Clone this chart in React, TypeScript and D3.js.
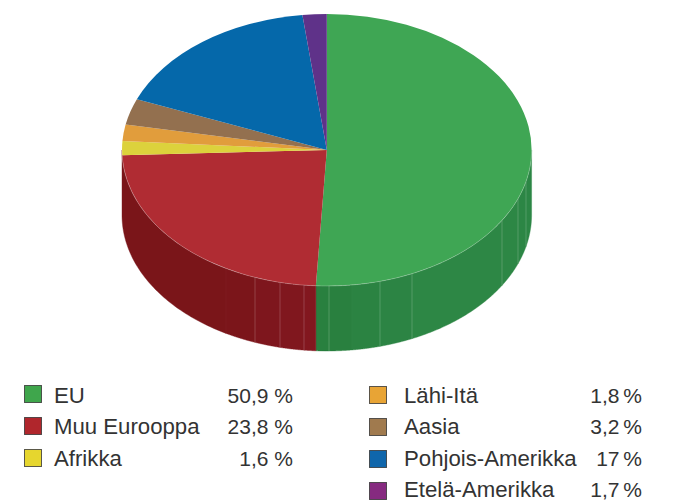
import React from "react";
import * as d3 from "d3";

const categories = ["EU", "Muu Eurooppa", "Afrikka", "Lähi-Itä", "Aasia", "Pohjois-Amerikka", "Etelä-Amerikka"];
const sliceValues = [50.85, 23.55, 1.65, 1.95, 3.1, 17, 1.9];
const valueLabels = ["50,9 %", "23,8 %", "1,6 %", "1,8 %", "3,2 %", "17 %", "1,7 %"];
const topColors = ["#3fa654", "#b02c33", "#dcd23c", "#e19d3c", "#93704f", "#0568aa", "#5f3289"];
const swatchColors = ["#3fa64c", "#b0262c", "#e6d62e", "#e8a435", "#a07a4e", "#0f66ab", "#862a80"];
const greenSeams = [329, 352, 380, 412, 502, 518, 526];
const redSeams = [226, 255, 280, 304];
const greenFacets = ["#29803f", "#29803f", "#2b8342", "#2c8444", "#2d8745", "#2d8745", "#2c8645", "#2c8645"];
const redFacets = ["#7a1519", "#7b151a", "#7e161d", "#80171e", "#82171f"];

const CX = 326.8, CY = 150, RX = 204.8, RY = 136, DEPTH = 65, UNIT = 1000;

const pieGen = d3.pie<number>().sort(null).startAngle(0).endAngle(2 * Math.PI);
const slices = pieGen(sliceValues);
const unitArc = d3.arc<d3.PieArcDatum<number>>().innerRadius(0).outerRadius(UNIT);

const xOf = (a: number) => CX + RX * Math.sin(a);
const yOf = (a: number) => CY - RY * Math.cos(a);
const angleOfX = (x: number) => Math.PI - Math.asin((x - CX) / RX);

function sidePath(a0: number, a1: number): string {
  const angles = d3.range(0, 61).map((i) => a0 + ((a1 - a0) * i) / 60);
  const top = angles.map((a) => [xOf(a), yOf(a)] as [number, number]);
  const bottom = angles.slice().reverse().map((a) => [xOf(a), yOf(a) + DEPTH] as [number, number]);
  return d3.line()([...top, ...bottom]) + "Z";
}

function rimPath(a0: number, a1: number): string {
  const angles = d3.range(0, 121).map((i) => a0 + ((a1 - a0) * i) / 120);
  return d3.line()(angles.map((a) => [xOf(a), yOf(a)] as [number, number])) ?? "";
}

const rightEdge = Math.PI / 2;
const leftEdge = (3 * Math.PI) / 2;
const splitAngle = slices[0].endAngle;

function facetBounds(seams: number[], start: number, end: number): number[] {
  const inner = seams.map(angleOfX).sort(d3.ascending);
  return [start, ...inner, end];
}

const greenBounds = facetBounds(greenSeams, rightEdge, splitAngle);
const redBounds = facetBounds(redSeams, splitAngle, leftEdge);

const legendLeft = [0, 1, 2];
const legendRight = [3, 4, 5, 6];

function LegendRow({ i, x, y, textY, valueX, labelDx, wordSpacing }: { i: number; x: number; y: number; textY: number; valueX: number; labelDx: number; wordSpacing: number }) {
  return (
    <g>
      <rect x={x + 0.5} y={y + 0.5} width={17} height={17} fill={swatchColors[i]} stroke="#333" strokeOpacity={0.8} strokeWidth={1} />
      <text x={x + labelDx} y={textY} fontSize={22.2} fill="#333">{categories[i]}</text>
      <text x={valueX} y={textY} fontSize={21} fill="#333" textAnchor="end" style={{ wordSpacing }}>{valueLabels[i]}</text>
    </g>
  );
}

export default function App() {
  const seamAngles = [...greenSeams, ...redSeams].map(angleOfX);
  return (
    <svg width={678} height={502} viewBox="0 0 678 502" style={{ position: "absolute", left: 0, top: 0, fontFamily: "'Liberation Sans', sans-serif" }}>
      <rect width={678} height={502} fill="#fff" />
      {greenBounds.slice(0, -1).map((a, i) => (
        <path key={"g" + i} d={sidePath(a, greenBounds[i + 1])} fill={greenFacets[greenFacets.length - 1 - i]} stroke={greenFacets[greenFacets.length - 1 - i]} strokeWidth={0.4} />
      ))}
      {redBounds.slice(0, -1).map((a, i) => (
        <path key={"r" + i} d={sidePath(a, redBounds[i + 1])} fill={redFacets[redFacets.length - 1 - i]} stroke={redFacets[redFacets.length - 1 - i]} strokeWidth={0.4} />
      ))}
      {seamAngles.map((a, i) => (
        <line key={i} x1={xOf(a)} x2={xOf(a)} y1={yOf(a)} y2={yOf(a) + DEPTH} stroke="#fff"
          strokeOpacity={greenSeams[i] === 352 || redSeams[i - greenSeams.length] === 226 ? 0.03 : 0.2} strokeWidth={1} />
      ))}
      <g transform={`translate(${CX},${CY}) scale(${RX / UNIT},${RY / UNIT})`}>
        {slices.map((s, i) => (
          <path key={i} d={unitArc(s) ?? ""} fill={topColors[i]} />
        ))}
      </g>
      <path d={rimPath(rightEdge, leftEdge)} fill="none" stroke="#fff" strokeOpacity={0.3} strokeWidth={0.8} />
      {legendLeft.map((i, k) => (
        <LegendRow key={i} i={i} x={24} y={385 + k * 32} textY={402.8 + k * 31.5} valueX={293} labelDx={30} wordSpacing={0} />
      ))}
      {legendRight.map((i, k) => (
        <LegendRow key={i} i={i} x={369} y={386 + k * 32} textY={402.8 + k * 31.5} valueX={642} labelDx={35} wordSpacing={-2} />
      ))}
    </svg>
  );
}
